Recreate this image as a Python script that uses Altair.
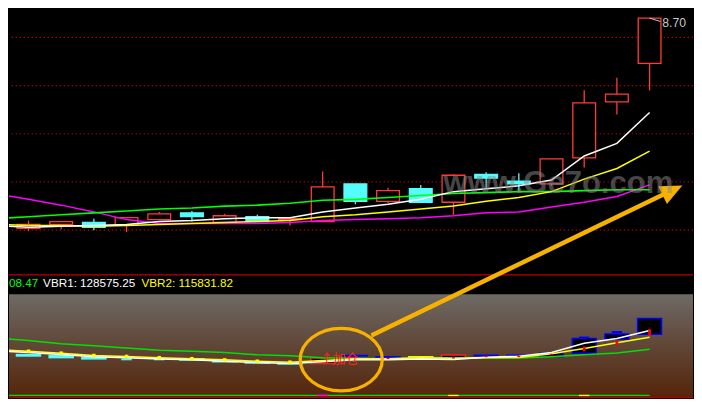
import altair as alt
import pandas as pd

# ---------------- data ----------------
candle_idx = list(range(20))
open_p  = [6.52, 6.56, 6.58, 6.55, 6.61, 6.68, 6.58, 6.64, 6.61, 6.59,
           6.98, 6.80, 6.93, 6.79, 7.08, 7.01, 6.98, 7.25, 7.83, 8.23]
close_p = [6.56, 6.59, 6.53, 6.63, 6.67, 6.64, 6.65, 6.59, 6.62, 6.95,
           6.80, 6.91, 6.79, 7.07, 7.04, 6.98, 7.24, 7.82, 7.91, 8.70]
high_p  = [6.60, 6.59, 6.62, 6.63, 6.69, 6.70, 6.67, 6.66, 6.62, 7.11,
           6.98, 6.94, 6.97, 7.08, 7.10, 7.09, 7.24, 7.95, 8.08, 8.70]
low_p   = [6.49, 6.51, 6.50, 6.48, 6.61, 6.59, 6.58, 6.59, 6.55, 6.59,
           6.77, 6.78, 6.79, 6.66, 6.94, 6.91, 6.96, 7.15, 7.70, 7.95]

ma_idx = list(range(-1, 20))
ma5  = [6.55, 6.53, 6.54, 6.55, 6.56, 6.59, 6.60, 6.62, 6.63, 6.63, 6.69,
        6.73, 6.77, 6.82, 6.90, 6.93, 6.96, 7.02, 7.27, 7.40, 7.72]
ma10 = [6.56, 6.55, 6.55, 6.54, 6.55, 6.56, 6.57, 6.58, 6.59, 6.60, 6.64,
        6.66, 6.69, 6.72, 6.75, 6.80, 6.84, 6.90, 7.03, 7.14, 7.32]
ma20 = [6.88, 6.82, 6.76, 6.69, 6.61, 6.57, 6.57, 6.57, 6.57, 6.58, 6.60,
        6.61, 6.62, 6.63, 6.65, 6.68, 6.69, 6.74, 6.79, 6.85, 6.97]
ma60 = [6.62, 6.64, 6.66, 6.68, 6.70, 6.72, 6.73, 6.75, 6.76, 6.78, 6.81,
        6.82, 6.84, 6.86, 6.88, 6.89, 6.90, 6.90, 6.91, 6.92, 6.92]

grid_prices = [8.5, 8.0, 7.5, 7.0, 6.5]

vb   = [114400, 109800, 103400, 99700, 95200, 91000, 89100, 86600, 82400, 80500, 76900,
        75600, 75000, 76300, 76300, 76300, 76300, 78700, 82400, 86000, 92808.47]
vbr1 = [89700, 86700, 83100, 78700, 76900, 74500, 72700, 70300, 67700, 65900, 69000,
        72700, 72700, 74500, 73600, 77800, 79600, 86900, 104300, 113500, 128575.25]
vbr2 = [92400, 89100, 85500, 81100, 79200, 76900, 75000, 72700, 70100, 68300, 71400,
        75000, 75000, 76900, 75900, 76900, 77400, 84200, 94200, 105200, 115831.82]

hist_idx = list(range(9))
hist_top = [84200, 82400, 78700, 75600, 75600, 76300, 71400, 69500, 67200]
hist_bot = [78700, 75600, 73200, 71900, 71900, 70800, 67700, 65300, 63500]
hist_narrow = [3, 4]

box_idx = [9, 13, 16, 17, 18, 19]
box_top = [76300, 81800, 85500, 113500, 122100, 151300]
box_bot = [65900, 75000, 79200, 85500, 112200, 121300]
box_red = [9, 13]

bar_idx = [10, 11, 12, 14, 15]
bar_top = [82400, 80000, 80000, 82900, 82900]
bar_bot = [78700, 76300, 76300, 79200, 79200]
bar_yellow = [12]

cap_idx = [17, 18]
cap_top = [117100, 127600]
cap_bot = [113500, 123900]

mk_idx = [11, 13, 14, 15, 16, 17, 18, 19]
mk_top = [76900, 78100, 80500, 80500, 84200, 98300, 109800, 131200]
mk_bot = [74100, 75400, 77800, 77800, 81400, 89100, 100700, 119000]

flag_idx = [9, 13, 17]
flag_kind = ["m", "y", "y"]

signal_text = "↑加仓"
watermark = "www.Ge7o.com"

# ---------------- styles / layout ----------------
W, H = 686, 391
XLO, XHI = -0.596, 20.328
RED = "#ff3a3a"
CYAN = "#54fcfc"
GRIDRED = "#b80000"
BLUE = "#0000ff"
ORANGE = "#f7b200"

XS = alt.Scale(domain=[XLO, XHI], nice=False, zero=False)
YP = alt.Scale(domain=[4.750, 8.804], nice=False, zero=False)
YV = alt.Scale(domain=[-1830, 742980], nice=False, zero=False)


def X(f):
    return alt.X(f, scale=XS, axis=None)


def YPr(f):
    return alt.Y(f, scale=YP, axis=None)


def YVb(f):
    return alt.Y(f, scale=YV, axis=None)


# ---------------- upper panel ----------------
grid = alt.Chart(pd.DataFrame({"p": grid_prices})).mark_rule(
    color=GRIDRED, strokeDash=[1.3, 2.7], strokeWidth=1.2
).encode(y=YPr("p:Q"))

cdf = pd.DataFrame({"i": candle_idx, "o": open_p, "c": close_p, "h": high_p, "l": low_p})
cbase = alt.Chart(cdf).transform_calculate(
    dir="datum.c >= datum.o ? 'up' : 'down'",
    xa="datum.i - 0.348",
    xb="datum.i + 0.348",
)
wick = cbase.mark_rule(strokeWidth=1.3).encode(
    x=X("i:Q"), y=YPr("l:Q"), y2="h:Q",
    color=alt.Color("dir:N", scale=alt.Scale(domain=["up", "down"], range=[RED, CYAN]), legend=None),
)
body = cbase.mark_rect(strokeWidth=1.3).encode(
    x=X("xa:Q"), x2="xb:Q", y=YPr("o:Q"), y2="c:Q",
    fill=alt.Fill("dir:N", scale=alt.Scale(domain=["up", "down"], range=["#000000", CYAN]), legend=None),
    stroke=alt.Stroke("dir:N", scale=alt.Scale(domain=["up", "down"], range=[RED, CYAN]), legend=None),
)

madf = pd.DataFrame({"i": ma_idx, "ma5": ma5, "ma10": ma10, "ma20": ma20, "ma60": ma60})


def ma_line(col, color, sw=1.5):
    return alt.Chart(madf).mark_line(color=color, strokeWidth=sw, clip=True).encode(
        x=X("i:Q"), y=YPr(f"{col}:Q"))


last = pd.DataFrame({"i": [candle_idx[-1]], "p": [high_p[-1]], "t": [f"{high_p[-1]:.2f}"]})
leader = alt.Chart(last).transform_calculate(
    i2="datum.i + 0.33", p2="datum.p - 0.036"
).mark_rule(color="#c8c8c8", strokeWidth=1).encode(x=X("i:Q"), x2="i2:Q", y=YPr("p:Q"), y2="p2:Q")
last_lbl = alt.Chart(last).transform_calculate(
    ix="datum.i + 0.39", py="datum.p - 0.051"
).mark_text(color="#c8c8c8", fontSize=12.2, font="Liberation Sans", align="left", baseline="middle").encode(
    x=X("ix:Q"), y=YPr("py:Q"), text="t:N")

upper = alt.layer(grid, wick, body,
                  ma_line("ma20", "#ff00ff"), ma_line("ma60", "#00ff00", 1.6),
                  ma_line("ma10", "#ffff00"), ma_line("ma5", "#ffffff"),
                  leader, last_lbl)

# ---------------- lower panel ----------------
def one(**kw):
    return alt.Chart(pd.DataFrame({k: [v] for k, v in kw.items()}))


sep = one(v=234800).mark_rule(color="#c00000", strokeWidth=1.2).encode(y=YVb("v:Q"))
GRAD = {"gradient": "linear", "x1": 0, "y1": 0, "x2": 0, "y2": 1,
        "stops": [{"offset": 0, "color": "#6e6a66"},
                  {"offset": 0.5, "color": "#604636"},
                  {"offset": 1, "color": "#55250a"}]}
bg = one(a=XLO, b=XHI, t=197600, btm=900).mark_rect(fill=GRAD).encode(
    x=X("a:Q"), x2="b:Q", y=YVb("t:Q"), y2="btm:Q")
bot_green = one(a=XLO, b=candle_idx[-1], v=4900).mark_rule(color="#00dd00", strokeWidth=1.3).encode(
    x=X("a:Q"), x2="b:Q", y=YVb("v:Q"))
fdf = pd.DataFrame({"i": flag_idx, "k": flag_kind})
fbase = alt.Chart(fdf).transform_calculate(xa="datum.i - 0.16", xb="datum.i + 0.16", v="4900")
flag_m = fbase.transform_filter("datum.k == 'm'").mark_rule(color="#ff00ff", strokeWidth=1.3).encode(
    x=X("xa:Q"), x2="xb:Q", y=YVb("v:Q"))
flag_y = fbase.transform_filter("datum.k == 'y'").mark_rule(color="#ffff00", strokeWidth=1.3).encode(
    x=X("xa:Q"), x2="xb:Q", y=YVb("v:Q"))
bot_red = one(v=900).mark_rule(color="#c00000", strokeWidth=1.2).encode(y=YVb("v:Q"))

hdf = pd.DataFrame({"i": hist_idx, "t": hist_top, "b": hist_bot})
hdf["half"] = [0.16 if i in hist_narrow else 0.39 for i in hist_idx]
hist = alt.Chart(hdf).transform_calculate(
    xa="datum.i - datum.half", xb="datum.i + datum.half"
).mark_rect(color=CYAN).encode(x=X("xa:Q"), x2="xb:Q", y=YVb("t:Q"), y2="b:Q")

bxdf = pd.DataFrame({"i": box_idx, "t": box_top, "b": box_bot})
bxdf["red"] = [i in box_red for i in box_idx]
bxbase = alt.Chart(bxdf).transform_calculate(xa="datum.i - 0.365", xb="datum.i + 0.365")
box_r = bxbase.transform_filter("datum.red").mark_rect(fill="#000000", stroke="#ff2020", strokeWidth=1.5).encode(
    x=X("xa:Q"), x2="xb:Q", y=YVb("t:Q"), y2="b:Q")
box_b = bxbase.transform_filter("!datum.red").mark_rect(fill="#000000", stroke=BLUE, strokeWidth=1.5).encode(
    x=X("xa:Q"), x2="xb:Q", y=YVb("t:Q"), y2="b:Q")

brdf = pd.DataFrame({"i": bar_idx, "t": bar_top, "b": bar_bot})
brdf["yel"] = [i in bar_yellow for i in bar_idx]
brbase = alt.Chart(brdf).transform_calculate(xa="datum.i - 0.39", xb="datum.i + 0.39")
bar_bl = brbase.transform_filter("!datum.yel").mark_rect(color=BLUE).encode(
    x=X("xa:Q"), x2="xb:Q", y=YVb("t:Q"), y2="b:Q")
bar_ye = brbase.transform_filter("datum.yel").mark_rect(color="#ffff00").encode(
    x=X("xa:Q"), x2="xb:Q", y=YVb("t:Q"), y2="b:Q")
caps = alt.Chart(pd.DataFrame({"i": cap_idx, "t": cap_top, "b": cap_bot})).transform_calculate(
    xa="datum.i - 0.16", xb="datum.i + 0.16"
).mark_rect(color=BLUE).encode(x=X("xa:Q"), x2="xb:Q", y=YVb("t:Q"), y2="b:Q")

ldf = pd.DataFrame({"i": ma_idx, "vb": vb, "vbr1": vbr1, "vbr2": vbr2})


def vline(col, color):
    return alt.Chart(ldf).mark_line(color=color, strokeWidth=1.5, clip=True).encode(
        x=X("i:Q"), y=YVb(f"{col}:Q"))


sq = alt.Chart(pd.DataFrame({"i": hist_idx, "v": vbr2[1:1 + len(hist_idx)]})).mark_square(
    size=12, color="#ffff00", opacity=1).encode(x=X("i:Q"), y=YVb("v:Q"))

marks = alt.Chart(pd.DataFrame({"i": mk_idx, "t": mk_top, "b": mk_bot})).transform_calculate(
    xa="datum.i - 0.042", xb="datum.i + 0.042"
).mark_rect(color="#ff0000").encode(x=X("xa:Q"), x2="xb:Q", y=YVb("t:Q"), y2="b:Q")

HV = 218700
t_vb = one(x=XLO, v=HV, t=f"{vb[-1]:.2f}"[-5:]).mark_text(
    color="#00ff00", fontSize=11.7, font="Liberation Sans", align="left", baseline="middle").encode(
    x=X("x:Q"), y=YVb("v:Q"), text="t:N")
t_v1 = one(x=0.447, v=HV, t=f"VBR1: {vbr1[-1]:.2f}").mark_text(
    color="#ffffff", fontSize=11.7, font="Liberation Sans", align="left", baseline="middle").encode(
    x=X("x:Q"), y=YVb("v:Q"), text="t:N")
t_v2 = one(x=3.457, v=HV, t=f"VBR2: {vbr2[-1]:.2f}").mark_text(
    color="#ffff00", fontSize=11.7, font="Liberation Sans", align="left", baseline="middle").encode(
    x=X("x:Q"), y=YVb("v:Q"), text="t:N")

sig = one(x=9.51, v=74100, t=signal_text).mark_text(
    color="#ff2020", fontSize=12.7, font="Noto Sans CJK SC", align="center", baseline="middle").encode(
    x=X("x:Q"), y=YVb("v:Q"), text="t:N")

ELL = "M-1,0A1,0.761,0,1,1,1,0A1,0.761,0,1,1,-1,0Z"
ellipse = one(x=9.568, v=73200).mark_point(
    shape=ELL, size=6735, filled=False, stroke=ORANGE, strokeWidth=3.3, opacity=1).encode(
    x=X("x:Q"), y=YVb("v:Q"))
arrow = one(x=10.49, x2=19.61, v=118950, v2=393450).mark_rule(color=ORANGE, strokeWidth=4.5).encode(
    x=X("x:Q"), x2="x2:Q", y=YVb("v:Q"), y2="v2:Q")
head = one(x=19.70, v=395600).mark_point(
    shape="M0,-1L0.9,1L-0.9,1Z", size=484, filled=True, color=ORANGE, opacity=1, angle=64).encode(
    x=X("x:Q"), y=YVb("v:Q"))
wm = one(x=16.21, v=389800, t=watermark).mark_text(
    color="#8c8c8c", opacity=0.5, fontSize=31, font="Liberation Sans", fontWeight="bold",
    align="center", baseline="alphabetic").encode(x=X("x:Q"), y=YVb("v:Q"), text="t:N")

lower = alt.layer(sep, bg, bot_green, flag_m, flag_y, bot_red, hist, box_r, box_b,
                  bar_bl, bar_ye, caps,
                  vline("vb", "#00e000"), vline("vbr2", "#ffff00"), vline("vbr1", "#ffffff"),
                  sq, marks, t_vb, t_v1, t_v2, sig, ellipse, arrow, head, wm)

chart = alt.layer(upper, lower).resolve_scale(y="independent").properties(
    width=W, height=H, background="black", padding=0,
    autosize=alt.AutoSizeParams(type="fit", contains="padding"),
).configure_view(stroke=None)

chart.save("out.html", embed_options={"renderer": "svg", "actions": False})
